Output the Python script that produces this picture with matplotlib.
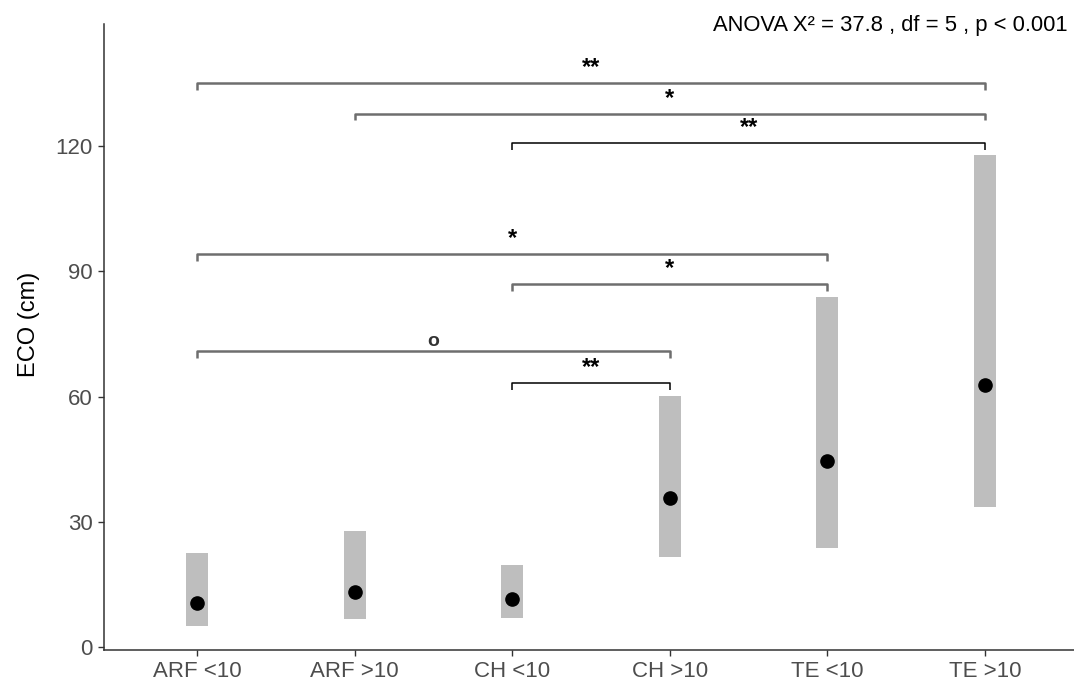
import numpy as np
import matplotlib.pyplot as plt

plt.rcParams['font.family'] = ['Liberation Sans', 'DejaVu Sans']

groups = ["ARF <10", "ARF >10", "CH <10", "CH >10", "TE <10", "TE >10"]
median = [10.5, 13.2, 11.5, 35.7, 44.6, 62.8]
low = [5.0, 6.7, 6.9, 21.6, 23.7, 33.5]
high = [22.5, 27.8, 19.6, 60.1, 83.8, 117.8]

# comparisons: (from, to, height, label, style)
comp_from = [0, 1, 2, 0, 2, 0, 2]
comp_to = [5, 5, 5, 4, 4, 3, 3]
comp_y = [135.1, 127.7, 120.7, 94.1, 86.9, 70.9, 63.2]
comp_lab = ["**", "*", "**", "*", "*", "o", "**"]
comp_dark = [False, False, True, False, False, False, True]

x = np.arange(1, len(groups) + 1)

fig = plt.figure(figsize=(10.74, 6.87), dpi=100)
ax = fig.add_axes([104/1074, 37/687, (1078-104)/1074, (650-24)/687])

ax.bar(x, np.array(high) - np.array(low), bottom=low, width=0.14, color="#bebebe", zorder=2)
ax.plot(x, median, "o", color="black", markersize=9.5, zorder=3)

for a, b, yy, lab, dark in zip(comp_from, comp_to, comp_y, comp_lab, comp_dark):
    xa, xb = x[a], x[b]
    col = "black" if dark else "#6e6e6e"
    lw = 1.1 if dark else 1.8
    ax.plot([xa, xa, xb, xb], [yy - 1.6, yy, yy, yy - 1.6], color=col, lw=lw, solid_capstyle="butt", zorder=4)
    if lab == "o":
        ax.text((xa + xb) / 2, yy + 2.3, lab, ha="center", va="center", fontsize=14, fontweight="bold", color="#333333")
    else:
        ax.text((xa + xb) / 2, yy + 0.9, lab, ha="center", va="bottom", fontsize=17, fontweight="bold", color="black")

ax.set_xlim(0.41, 6.59)
ax.set_ylim(-0.7, 149.2)
ax.set_xticks(x)
ax.set_xticklabels(groups)
ax.set_yticks([0, 30, 60, 90, 120])
ax.tick_params(labelsize=16, labelcolor="#4d4d4d", color="#333333", length=4, width=1, pad=4)
ax.set_ylabel("ECO (cm)", fontsize=17, color="black")
ax.yaxis.set_label_coords(-0.066, 0.52)
for s in ["top", "right"]:
    ax.spines[s].set_visible(False)
for s in ["left", "bottom"]:
    ax.spines[s].set_linewidth(1.1)
    ax.spines[s].set_color("#333333")

fig.text(1068/1074, 1 - 25/687, "ANOVA X² = 37.8 , df = 5 , p < 0.001", ha="right", va="center", fontsize=15.8)

fig.savefig("out.png", dpi=100)
